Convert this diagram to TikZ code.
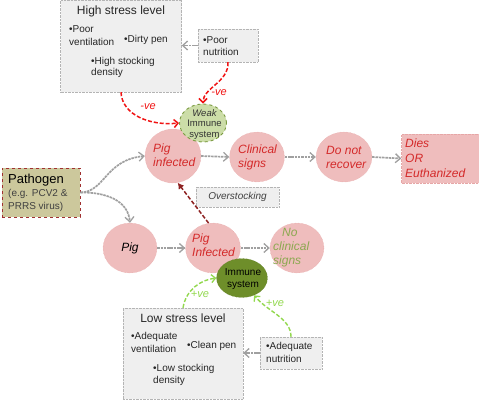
\documentclass[tikz,border=0pt]{standalone}
\usepackage{fontspec}
\setmainfont{Liberation Sans}
\usetikzlibrary{arrows.meta,shapes.geometric}
\definecolor{pinkfill}{HTML}{EFBDBD}
\definecolor{pinkline}{HTML}{E6A6A6}
\definecolor{redtxt}{HTML}{D42A2A}
\definecolor{boxfill}{HTML}{EFEFEF}
\definecolor{boxline}{HTML}{B4B4B4}
\definecolor{arrgray}{HTML}{A0A0A0}
\definecolor{pathfill}{HTML}{CCC89C}
\definecolor{pathline}{HTML}{A03030}
\definecolor{weakfill}{HTML}{CCDDA8}
\definecolor{weakline}{HTML}{7A9A40}
\definecolor{immfill}{HTML}{6E8E2A}
\definecolor{immline}{HTML}{56761E}
\definecolor{greentxt}{HTML}{8CA850}
\definecolor{greenarr}{HTML}{92D84E}
\definecolor{redarr}{HTML}{F01414}
\definecolor{darkred}{HTML}{8E2222}
\begin{document}
\begin{tikzpicture}[x=1pt,y=-1pt,
  pinkell/.style={ellipse,fill=pinkfill,draw=pinkline,densely dotted,inner sep=0pt},
  graybox/.style={rectangle,fill=boxfill,draw=boxline,densely dotted,inner sep=0pt},
  txt/.style={inner sep=0pt,anchor=west,font=\fontsize{10}{11}\selectfont,text=black!85},
  etxt/.style={inner sep=0pt,align=left,font=\fontsize{12}{14}\selectfont\itshape,text=redtxt},
  grayarr/.style={draw=arrgray,line width=1.7pt,dash pattern=on 2.5pt off 0.8pt,-{Straight Barb[length=5pt,width=9pt,line width=1.3pt]}},
  redarrow/.style={draw=redarr,line width=1.5pt,dash pattern=on 4pt off 2pt,-{Straight Barb[length=4pt,width=8pt,line width=1.5pt]}},
  greenarrow/.style={draw=greenarr,line width=1.4pt,dash pattern=on 4pt off 2pt,-{Straight Barb[length=4pt,width=8pt,line width=1.3pt]}},
  lbl/.style={inner sep=0pt,font=\fontsize{11}{12}\selectfont\itshape}]
\useasboundingbox (0,0) rectangle (479,400);

% High stress box
\node[graybox,minimum width=121pt,minimum height=92pt] (hs) at (121,46) {};
\node[inner sep=0pt,font=\fontsize{12}{13}\selectfont,text=black!85] (hst) at (121,11) {High stress level};
\node[txt] (hs1) at (69,29) {•Poor};
\node[txt] (hs2) at (69,41.5) {ventilation};
\node[txt] (hs3) at (124,39.5) {•Dirty pen};
\node[txt] (hs4) at (91,61.5) {•High stocking};
\node[txt] (hs5) at (91,73) {density};

% Poor nutrition box
\node[graybox,minimum width=60pt,minimum height=33pt] (pn) at (228,45.5) {};
\node[txt] (pn1) at (203,40) {•Poor};
\node[txt] (pn2) at (203,52) {nutrition};

% Low stress box
\node[graybox,minimum width=120pt,minimum height=91pt] (ls) at (183,353.5) {};
\node[inner sep=0pt,font=\fontsize{12}{13}\selectfont,text=black!85] (lst) at (183,318) {Low stress level};
\node[txt] (ls1) at (131,337) {•Adequate};
\node[txt] (ls2) at (131,349) {ventilation};
\node[txt] (ls3) at (187,346) {•Clean pen};
\node[txt] (ls4) at (153,369) {•Low stocking};
\node[txt] (ls5) at (153,381) {density};

% Adequate nutrition box
\node[graybox,minimum width=62pt,minimum height=32pt] (an) at (291,353) {};
\node[txt] (an1) at (266,347) {•Adequate};
\node[txt] (an2) at (266,359) {nutrition};

% Pathogen box
\node[rectangle,fill=pathfill,draw=pathline,dashed,line width=0.9pt,minimum width=78pt,minimum height=49pt,inner sep=0pt] (path) at (41,192.5) {};
\node[inner sep=0pt,anchor=west,font=\fontsize{13}{14}\selectfont] (pa1) at (8,180) {Pathogen};
\node[txt,text=black!75] (pa2) at (8,193.5) {(e.g. PCV2 \&};
\node[txt,text=black!75] (pa3) at (8,207) {PRRS virus)};

% Top row
\node[pinkell,minimum width=56pt,minimum height=54pt] (pigT) at (173,156) {};
\node[etxt,anchor=west] (pigTt) at (153,155) {Pig\\infected};
\node[pinkell,minimum width=55pt,minimum height=50pt] (cs) at (257,157) {};
\node[etxt,anchor=west] (cst) at (238,157) {Clinical\\signs};
\node[pinkell,minimum width=56pt,minimum height=50pt] (dnr) at (344,157) {};
\node[etxt,anchor=west] (dnrt) at (326,157) {Do not\\recover};
\node[rectangle,fill=pinkfill,draw=pinkline,densely dotted,minimum width=78pt,minimum height=49pt,inner sep=0pt] (dies) at (440.5,158.5) {};
\node[etxt,anchor=west,font=\fontsize{12}{15}\selectfont\itshape] (diest) at (405,158) {Dies\\OR\\Euthanized};

% Weak immune system
\node[ellipse,fill=weakfill,draw=weakline,dashed,line width=0.9pt,minimum width=47pt,minimum height=38pt,inner sep=0pt] (weak) at (203,123) {};
\node[inner sep=0pt,align=center,font=\fontsize{9.5}{10.8}\selectfont,text=black!80] (weakt) at (204.5,124.5) {\itshape Weak\\Immune\\system};

% Overstocking label
\node[graybox,minimum width=83pt,minimum height=20pt] (ov) at (237.5,197) {};
\node[inner sep=0pt,font=\fontsize{10}{11}\selectfont\itshape,text=black!75] (ovt) at (237.5,197) {Overstocking};

% Bottom row
\node[pinkell,minimum width=54pt,minimum height=50pt] (pigB) at (130,248) {};
\node[etxt,text=black,anchor=center] (pigBt) at (130,248) {Pig};
\node[pinkell,minimum width=55pt,minimum height=50pt] (pigI) at (213,248) {};
\node[etxt,anchor=west] (pigIt) at (192,245) {Pig\\Infected};
\node[pinkell,minimum width=54pt,minimum height=50pt] (ncs) at (297,248) {};
\node[etxt,anchor=west,text=greentxt] (ncst) at (273,247.5) {\hspace*{9pt}No\\clinical\\signs};

% Immune system
\node[ellipse,fill=immfill,draw=immline,densely dotted,minimum width=51pt,minimum height=39pt,inner sep=0pt] (imm) at (242,278) {};
\node[inner sep=0pt,align=center,font=\fontsize{10}{12.5}\selectfont,text=black] (immt) at (243,279) {Immune\\system};

% gray flow arrows
\draw[grayarr] (path.east) .. controls (105,192) and (105,160) .. (pigT.west);
\draw[grayarr] (path.east) .. controls (105,192) and (128,200) .. (pigB.north);
\draw[grayarr] (pigT.east) -- (cs.west);
\draw[grayarr] (cs.east) -- (dnr.west);
\draw[grayarr] (dnr.east) -- (dies.west);
\draw[grayarr] (pigB.east) -- (pigI.west);
\draw[grayarr] (pigI.east) -- (ncs.west);
\draw[grayarr] (pn.west) -- (hs.east |- pn.west);
\draw[grayarr] (an.west) -- (ls.east |- an.west);

% overstocking arrow
\draw[draw=darkred,line width=1.5pt,dash pattern=on 4pt off 2pt,-{Latex[length=6pt,width=7pt]}] (pigI.100) -- (pigT.-80);

% red negative arrows
\draw[redarrow] (hs.south) .. controls (122,115) and (150,126) .. (weak.west);
\node[lbl,text=redarr] (neg1) at (148,107) {-ve};
\draw[redarrow] (pn.south) .. controls (229,82) and (203,88) .. (weak.north);
\node[lbl,text=redarr] (neg2) at (219,93) {-ve};

% green positive arrows
\draw[greenarrow] (ls.north) .. controls (186,290) and (200,280) .. (imm.west);
\node[lbl,text=greenarr] (pos1) at (200,294) {+ve};
\draw[greenarrow] (an.north) .. controls (291,318) and (268,312) .. (imm.-55);
\node[lbl,text=greenarr] (pos2) at (275,303) {+ve};
\end{tikzpicture}
\end{document}
